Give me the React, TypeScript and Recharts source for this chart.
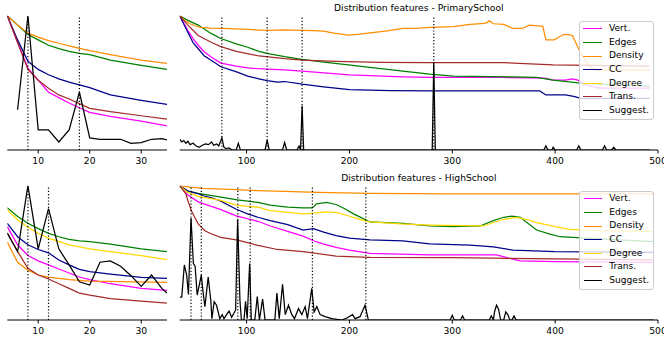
import React from 'react';
import { LineChart, Line, XAxis, YAxis, ReferenceLine } from 'recharts';

type Pt = [number, number];

const FONT = '"DejaVu Sans", sans-serif';

const SERIES = [
  { key: 'vert', name: 'Vert.', color: '#ff00ff' },
  { key: 'edges', name: 'Edges', color: '#008000' },
  { key: 'density', name: 'Density', color: '#ff8c00' },
  { key: 'cc', name: 'CC', color: '#00008b' },
  { key: 'degree', name: 'Degree', color: '#ffd700' },
  { key: 'trans', name: 'Trans.', color: '#a52a2a' },
  { key: 'suggest', name: 'Suggest.', color: '#000000' },
];

const titles = ['Distribution features - PrimarySchool', 'Distribution features - HighSchool'];
const leftTicks = [10, 20, 30];
const rightTicks = [100, 200, 300, 400, 500];
const leftDomain: [number, number] = [4, 35];
const rightDomain: [number, number] = [35, 500];

// ---------- PrimarySchool, zoomed (left) ----------
const tlVert: Pt[] = [[4,1],[6,0.8],[8,0.61],[10,0.52],[12,0.43],[14,0.39],[16,0.35],[18,0.315],[20,0.28],[24,0.25],[30,0.215],[35,0.18]];
const tlEdges: Pt[] = [[4,1],[6,0.93],[8,0.86],[10,0.82],[12,0.78],[14,0.755],[16,0.735],[18,0.72],[20,0.71],[24,0.67],[30,0.63],[35,0.6]];
const tlDensity: Pt[] = [[4,1],[6,0.93],[8,0.87],[10,0.84],[12,0.815],[14,0.795],[16,0.775],[18,0.757],[20,0.74],[24,0.71],[30,0.67],[35,0.645]];
const tlCC: Pt[] = [[4,1],[6,0.82],[8,0.66],[10,0.6],[12,0.56],[14,0.53],[16,0.505],[18,0.485],[20,0.465],[24,0.41],[30,0.37],[35,0.34]];
const tlTrans: Pt[] = [[4,1],[6,0.8],[8,0.6],[10,0.52],[12,0.46],[14,0.41],[16,0.38],[18,0.345],[20,0.31],[24,0.285],[30,0.255],[35,0.23]];
const tlSuggest: Pt[] = [[6,0.3],[8,1],[10,0.15],[12,0.15],[14,0.06],[16,0.15],[18,0.43],[20,0.09],[22,0.08],[24,0.08],[26,0.08],[28,0.05],[30,0.055],[32,0.08],[34,0.085],[35,0.075]];
const tlMarks = [8, 18];

// ---------- PrimarySchool, full (right) ----------
const trVert: Pt[] = [[35,1],[43,0.89],[48,0.83],[53,0.78],[59,0.73],[66,0.69],[75,0.647],[90,0.625],[101,0.612],[112,0.605],[120,0.603],[137,0.597],[154,0.588],[200,0.56],[252,0.545],[278,0.54],[350,0.54],[390,0.535],[398,0.52],[410,0.52],[417,0.53],[422,0.52],[430,0.484],[443,0.46],[492,0.46]];
const trEdges: Pt[] = [[35,1],[43,0.965],[53,0.93],[65,0.87],[75,0.83],[90,0.79],[101,0.765],[112,0.735],[120,0.72],[137,0.695],[154,0.675],[175,0.655],[199,0.633],[220,0.615],[252,0.588],[278,0.565],[301,0.55],[359,0.545],[382,0.54],[398,0.52],[427,0.496],[492,0.476]];
const trDensity: Pt[] = [[35,1],[40,0.965],[45,0.94],[50,0.925],[55,0.913],[65,0.908],[76,0.905],[90,0.902],[101,0.898],[120,0.89],[137,0.894],[154,0.89],[165,0.888],[175,0.885],[185,0.87],[199,0.856],[210,0.862],[220,0.872],[235,0.885],[252,0.905],[265,0.905],[278,0.913],[301,0.918],[317,0.935],[325,0.94],[333,0.945],[336,0.962],[340,0.94],[350,0.935],[359,0.905],[368,0.905],[375,0.93],[388,0.92],[391,0.82],[399,0.82],[408,0.86],[413,0.86],[417,0.85],[423,0.75],[433,0.625],[440,0.595],[492,0.595]];
const trCC: Pt[] = [[35,1],[43,0.875],[48,0.8],[53,0.754],[59,0.7],[66,0.666],[75,0.62],[91,0.58],[101,0.55],[112,0.53],[120,0.516],[130,0.505],[137,0.51],[154,0.49],[175,0.47],[200,0.45],[240,0.442],[278,0.44],[350,0.44],[385,0.44],[391,0.41],[410,0.41],[418,0.4],[425,0.385],[492,0.385]];
const trTrans: Pt[] = [[35,1],[43,0.93],[53,0.853],[66,0.8],[75,0.77],[90,0.735],[112,0.7],[137,0.68],[154,0.67],[187,0.66],[230,0.652],[278,0.65],[350,0.65],[398,0.633],[492,0.625]];
const trSuggest: Pt[] = [[35,0.08],[37,0.06],[39,0.07],[41,0.05],[43,0.065],[45,0.04],[48,0.05],[51,0.03],[54,0.02],[57,0.035],[60,0.045],[63,0.04],[66,0.06],[68,0.035],[71,0.045],[73,0.03],[76,0.09],[78,0.02],[80,0.01],[83,0.015],[86,0],[90,0],[92,0.05],[94,0],[118,0],[120,0.075],[122,0],[135,0],[137,0.055],[139,0],[149,0],[151,0.03],[152.5,0],[154,0.33],[155.5,0],[280.5,0],[282,0.65],[283.5,0],[389,0],[391,0.03],[393,0],[397,0],[398,0.02],[400,0],[421,0],[423,0.03],[425,0],[446,0],[448,0.03],[450,0],[455,0],[457,0.02],[459,0],[492,0]];
const trMarks = [76, 120, 154, 282];

// ---------- HighSchool, zoomed (left) ----------
const blVert: Pt[] = [[4,0.695],[6,0.56],[8,0.48],[10,0.44],[12,0.41],[14,0.38],[16,0.35],[18,0.32],[20,0.3],[24,0.27],[30,0.235],[35,0.22]];
const blEdges: Pt[] = [[4,0.836],[6,0.77],[8,0.72],[10,0.68],[12,0.645],[14,0.62],[16,0.6],[18,0.59],[20,0.583],[24,0.565],[30,0.53],[35,0.51]];
const blDensity: Pt[] = [[4,0.58],[6,0.43],[8,0.37],[10,0.335],[12,0.32],[14,0.31],[16,0.3],[20,0.29],[35,0.28]];
const blCC: Pt[] = [[4,0.72],[6,0.62],[8,0.56],[10,0.525],[12,0.5],[14,0.447],[16,0.41],[18,0.377],[20,0.36],[24,0.342],[30,0.318],[35,0.31]];
const blDegree: Pt[] = [[4,0.82],[6,0.745],[8,0.69],[10,0.645],[12,0.61],[14,0.585],[16,0.56],[20,0.53],[24,0.51],[30,0.48],[35,0.45]];
const blTrans: Pt[] = [[4,0.65],[6,0.51],[8,0.385],[10,0.335],[12,0.305],[14,0.27],[16,0.235],[18,0.2],[20,0.185],[24,0.16],[30,0.14],[35,0.125]];
const blSuggest: Pt[] = [[4,0.645],[6,0.51],[8,1],[10,0.53],[12,0.83],[14,0.53],[16,0.41],[18,0.285],[20,0.26],[22,0.43],[24,0.44],[26,0.4],[28,0.33],[30,0.25],[32,0.335],[34,0.235],[35,0.2]];
const blMarks = [8, 12];

// ---------- HighSchool, full (right) ----------
const brVert: Pt[] = [[35,1],[43,0.93],[53,0.88],[75,0.822],[90,0.775],[111,0.735],[123,0.7],[140,0.66],[155,0.625],[165,0.59],[175,0.565],[187,0.54],[200,0.52],[220,0.496],[278,0.484],[343,0.484],[355,0.46],[366,0.44],[400,0.435],[496,0.43]];
const brEdges: Pt[] = [[35,1],[43,0.96],[53,0.943],[75,0.915],[91,0.895],[111,0.875],[123,0.855],[140,0.84],[155,0.835],[164,0.835],[168,0.865],[178,0.876],[187,0.86],[195,0.83],[204,0.79],[212,0.76],[220,0.73],[252,0.72],[278,0.7],[301,0.695],[327,0.7],[340,0.74],[350,0.765],[358,0.774],[366,0.765],[382,0.67],[395,0.64],[405,0.62],[430,0.61],[496,0.583]];
const brDensity: Pt[] = [[35,1],[45,0.99],[58,0.98],[90,0.97],[111,0.963],[170,0.95],[220,0.943],[300,0.94],[496,0.94]];
const brCC: Pt[] = [[35,1],[43,0.96],[48,0.95],[53,0.94],[58,0.925],[66,0.91],[75,0.885],[90,0.825],[101,0.79],[111,0.765],[123,0.74],[140,0.71],[155,0.67],[165,0.68],[175,0.655],[187,0.628],[200,0.61],[220,0.596],[252,0.59],[278,0.566],[317,0.558],[340,0.545],[359,0.52],[400,0.51],[496,0.504]];
const brDegree: Pt[] = [[35,1],[43,0.95],[53,0.92],[75,0.89],[90,0.855],[111,0.84],[123,0.815],[155,0.79],[165,0.795],[178,0.806],[188,0.8],[197,0.78],[210,0.75],[220,0.73],[250,0.715],[278,0.707],[330,0.7],[350,0.75],[362,0.764],[372,0.75],[382,0.725],[400,0.695],[414,0.675],[440,0.665],[496,0.658]];
const brTrans: Pt[] = [[35,1],[41,0.94],[43,0.888],[46.6,0.81],[53,0.715],[59.5,0.665],[66,0.64],[75,0.616],[91.5,0.595],[111,0.555],[130,0.525],[155,0.51],[187,0.476],[220,0.466],[300,0.464],[400,0.455],[496,0.447]];
const brSuggest: Pt[] = [[35,0.17],[37,0.17],[39.5,0.41],[41.8,0.335],[43.5,0.19],[46,0.76],[48.3,0.42],[50,0.4],[52,0.186],[56,0.335],[58,0.19],[59.5,0.1],[62.7,0.32],[65.3,0.14],[66.3,0.01],[68.5,0.136],[70.8,0.11],[74,0.01],[76.4,0.04],[78,0.01],[80.6,0.04],[83,0.067],[85.5,0.02],[89.4,0.075],[91.3,0.75],[93.6,0.14],[95,0],[97.5,0],[99,0.14],[100.6,0.01],[103,0.42],[104.6,0],[108,0],[110.4,0.174],[112.5,0],[115.6,0.155],[118,0],[127.5,0],[129.5,0.2],[131.8,0.01],[135,0.266],[137.6,0.04],[140.8,0.11],[144,0.04],[146.6,0.01],[150.5,0.085],[153.7,0.04],[157,0.1],[159.2,0.01],[163.4,0.235],[165.7,0.06],[168.3,0.1],[171.5,0.04],[176.4,0.025],[182.9,0.01],[192.6,0],[197.5,0.015],[203,0.04],[205.5,0.01],[210.3,0.025],[215.2,0.11],[218.4,0],[298,0],[300,0.035],[302,0],[308,0],[310,0.03],[312,0],[336,0],[338,0.03],[340,0],[341,0.06],[343,0.11],[345,0.08],[347,0],[350,0],[352,0.06],[354,0.04],[356,0],[358,0],[360,0.03],[362,0],[496,0]];
const brMarks = [46, 56, 91.5, 103.5, 164, 216];

type SeriesMap = Record<string, Pt[] | undefined>;

const panels = [
  { left: 0, top: 0, width: 172, ml: 7.3, mr: 5, domain: leftDomain, ticks: leftTicks, marks: tlMarks,
    series: { vert: tlVert, edges: tlEdges, density: tlDensity, cc: tlCC, trans: tlTrans, suggest: tlSuggest } as SeriesMap },
  { left: 170, top: 0, width: 494, ml: 9.7, mr: 6, domain: rightDomain, ticks: rightTicks, marks: trMarks,
    series: { vert: trVert, edges: trEdges, density: trDensity, cc: trCC, trans: trTrans, suggest: trSuggest } as SeriesMap },
  { left: 0, top: 170, width: 172, ml: 7.3, mr: 5, domain: leftDomain, ticks: leftTicks, marks: blMarks,
    series: { vert: blVert, edges: blEdges, density: blDensity, cc: blCC, degree: blDegree, trans: blTrans, suggest: blSuggest } as SeriesMap },
  { left: 170, top: 170, width: 494, ml: 9.7, mr: 6, domain: rightDomain, ticks: rightTicks, marks: brMarks,
    series: { vert: brVert, edges: brEdges, density: brDensity, cc: brCC, degree: brDegree, trans: brTrans, suggest: brSuggest } as SeriesMap },
];

const toData = (pts: Pt[]) => pts.map(([x, y]) => ({ x, y }));

function Panel(p: typeof panels[number]) {
  return (
    <div style={{ position: 'absolute', left: p.left, top: p.top }}>
      <LineChart width={p.width} height={175} margin={{ top: 15.7, left: p.ml, right: p.mr, bottom: 0 }}>
        <XAxis dataKey="x" type="number" domain={p.domain} allowDataOverflow ticks={p.ticks} interval={0}
          tickSize={3.5} tickMargin={3.8} height={25}
          tick={{ fontSize: 9.2, fill: '#000', fontFamily: FONT }}
          axisLine={{ stroke: '#000' }} tickLine={{ stroke: '#000' }} />
        <XAxis xAxisId="top" orientation="top" dataKey="x" type="number" domain={p.domain} allowDataOverflow
          height={0} tick={false} tickLine={false} axisLine={{ stroke: '#000' }} />
        <YAxis type="number" domain={[0, 1]} allowDataOverflow width={0} tick={false} tickLine={false}
          axisLine={{ stroke: '#000' }} />
        <YAxis yAxisId="r" orientation="right" type="number" domain={[0, 1]} width={0} tick={false}
          tickLine={false} axisLine={{ stroke: '#000' }} />
        {SERIES.filter((s) => p.series[s.key]).map((s) => (
          <Line key={s.key} data={toData(p.series[s.key] as Pt[])} dataKey="y" name={s.name} type="linear"
            stroke={s.color} strokeWidth={1.25} dot={false} activeDot={false} isAnimationActive={false} />
        ))}
        {p.marks.map((m) => (
          <ReferenceLine key={m} x={m} stroke="#000" strokeWidth={1.2} strokeDasharray="1.2 2" />
        ))}
      </LineChart>
    </div>
  );
}

function LegendBox({ left, top }: { left: number; top: number }) {
  return (
    <div style={{ position: 'absolute', left, top, width: 75, height: 99, boxSizing: 'border-box',
      border: '1px solid #cccccc', borderRadius: 3, background: 'rgba(255,255,255,0.8)', paddingTop: 0.5 }}>
      {SERIES.map((s) => (
        <div key={s.key} style={{ height: 13.6, display: 'flex', alignItems: 'center' }}>
          <div style={{ width: 18.4, height: 0, borderTop: `1.4px solid ${s.color}`, marginLeft: 3.3, marginRight: 7.3 }} />
          <span style={{ fontSize: 9.1, fontFamily: FONT, color: '#000', lineHeight: '13.6px', whiteSpace: 'nowrap' }}>{s.name}</span>
        </div>
      ))}
    </div>
  );
}

export default function App() {
  return (
    <div style={{ position: 'fixed', left: 0, top: 0, width: 664, height: 339, background: '#fff', overflow: 'hidden' }}>
      {panels.map((p, i) => <Panel key={i} {...p} />)}
      {titles.map((t, i) => (
        <div key={t} style={{ position: 'absolute', left: 179.7, width: 478.3, top: i === 0 ? 2 : 172, height: 11,
          lineHeight: '11px', textAlign: 'center', fontSize: 9.2, fontFamily: FONT, color: '#000', whiteSpace: 'nowrap' }}>{t}</div>
      ))}
      <LegendBox left={579} top={20.7} />
      <LegendBox left={579.3} top={190.7} />
    </div>
  );
}
